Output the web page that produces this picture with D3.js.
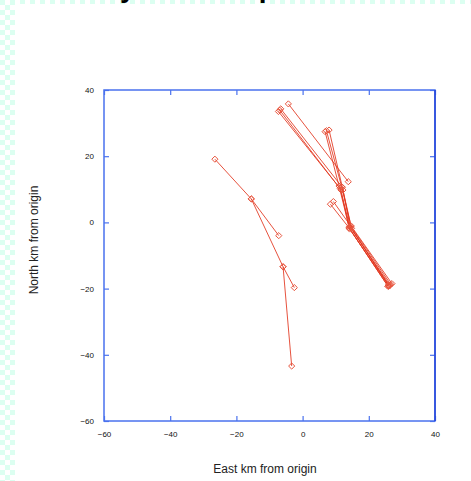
<!DOCTYPE html>
<html>
<head>
<meta charset="utf-8">
<script src="https://cdn.jsdelivr.net/npm/d3@7"></script>
<style>
  body { margin: 0; background: #fff; }
  svg { display: block; }
</style>
</head>
<body>
<svg width="471" height="481"></svg>
<script>
// track positions, km from origin (east, north)
const eastKm = [
    [-26.5, -15.5, -7.2],
    [-15.5, -5.9, -2.5],
    [-5.9, -3.3],
    [-7.3, 11.3, 14.3, 25.9],
    [-6.6, 12.0, 14.8, 26.2],
    [-4.3, 13.8],
    [-6.9, 11.6, 14.0, 25.8],
    [6.8, 11.0, 14.2, 26.0],
    [7.2, 11.8, 14.6, 27.0],
    [8.0, 12.2, 14.4, 26.4],
    [8.4, 14.0, 25.8],
    [9.3, 14.6, 26.6]
];
const northKm = [
    [19.1, 7.1, -4.0],
    [7.1, -13.4, -19.7],
    [-13.4, -43.4],
    [33.5, 10.3, -1.3, -18.9],
    [34.3, 10.6, -1.8, -19.2],
    [35.8, 12.3],
    [33.9, 9.8, -1.6, -19.3],
    [27.4, 11.0, -2.0, -19.1],
    [27.7, 10.8, -1.0, -18.5],
    [27.9, 9.8, -1.5, -19.0],
    [5.5, -1.6, -19.3],
    [6.3, -1.2, -18.7]
];
const xTicks = [-60, -40, -20, 0, 20, 40];
const yTicks = [-60, -40, -20, 0, 20, 40];

let svg = d3.select('svg');

// checkered page edge
let checker = svg.append('defs').append('pattern')
    .attr('id', 'chk')
    .attr('width', 10).attr('height', 10)
    .attr('patternUnits', 'userSpaceOnUse');
checker.append('rect').attr('width', 10).attr('height', 10).attr('fill', '#fff');
checker.append('rect').attr('width', 5).attr('height', 5).attr('fill', '#dcfff1');
checker.append('rect').attr('x', 5).attr('y', 5).attr('width', 5).attr('height', 5).attr('fill', '#dcfff1');
svg.append('rect').attr('width', 471).attr('height', 481).attr('fill', 'url(#chk)');
svg.append('rect').attr('x', 15).attr('y', 4).attr('width', 456).attr('height', 477).attr('fill', '#fff');

// slide title, mostly above the visible area
svg.append('text')
    .attr('x', 47).attr('y', -3)
    .attr('font-family', 'Liberation Sans, Arial, sans-serif')
    .attr('font-size', 28).attr('font-weight', 'bold')
    .attr('fill', '#000')
    .text('Hourly track map');

let plotLeft = 104, plotRight = 435, plotTop = 90, plotBottom = 421;

let x = d3.scaleLinear().domain([-60, 40]).range([plotLeft, plotRight]);
let y = d3.scaleLinear().domain([-60, 40]).range([plotBottom, plotTop]);

let axisColor = '#4a72ee';

// inward ticks on all four sides
let xAxisB = d3.axisBottom(x).tickValues(xTicks).tickSize(-5).tickPadding(10);
let xAxisT = d3.axisTop(x).tickValues(xTicks).tickSize(-5).tickFormat('');
let yAxisL = d3.axisLeft(y).tickValues(yTicks).tickSize(-5).tickPadding(10);
let yAxisR = d3.axisRight(y).tickValues(yTicks).tickSize(-5).tickFormat('');

function styleAxis(g) {
    g.select('.domain').remove();
    g.selectAll('line').attr('stroke', axisColor).attr('stroke-width', 1.2);
    g.selectAll('text')
        .attr('font-family', 'Liberation Sans, Arial, sans-serif')
        .attr('font-size', 8).attr('fill', '#111');
}

svg.append('g').attr('transform', `translate(0,${plotBottom})`).call(xAxisB).call(styleAxis);
svg.append('g').attr('transform', `translate(0,${plotTop})`).call(xAxisT).call(styleAxis);
svg.append('g').attr('transform', `translate(${plotLeft},0)`).call(yAxisL).call(styleAxis);
svg.append('g').attr('transform', `translate(${plotRight},0)`).call(yAxisR).call(styleAxis);

svg.append('rect')
    .attr('x', plotLeft).attr('y', plotTop)
    .attr('width', plotRight - plotLeft).attr('height', plotBottom - plotTop)
    .attr('fill', 'none').attr('stroke', axisColor).attr('stroke-width', 1.5);
svg.append('line')
    .attr('x1', plotRight).attr('x2', plotRight).attr('y1', plotTop).attr('y2', plotBottom)
    .attr('stroke', '#2544d8').attr('stroke-width', 1.5);

// tracks
let tracks = eastKm.map((xs, i) => xs.map((e, j) => [e, northKm[i][j]]));
let line = d3.line().x(d => x(d[0])).y(d => y(d[1]));

let plot = svg.append('g');
plot.selectAll('path.track')
    .data(tracks)
    .enter().append('path')
    .attr('class', 'track')
    .attr('d', line)
    .attr('fill', 'none')
    .attr('stroke', '#e2341c')
    .attr('stroke-opacity', 0.85)
    .attr('stroke-width', 1);

let symbol = d3.symbol().type(d3.symbolDiamond2).size(24);
plot.selectAll('path.pt')
    .data(tracks.flat())
    .enter().append('path')
    .attr('class', 'pt')
    .attr('transform', d => `translate(${x(d[0])},${y(d[1])})`)
    .attr('d', symbol)
    .attr('fill', 'none')
    .attr('stroke', '#e8553e')
    .attr('stroke-width', 1);

// axis titles
svg.append('text')
    .attr('x', 265).attr('y', 473)
    .attr('text-anchor', 'middle')
    .attr('font-family', 'Liberation Sans, Arial, sans-serif')
    .attr('font-size', 12).attr('fill', '#222')
    .text('East km from origin');

svg.append('text')
    .attr('transform', 'translate(38,240) rotate(-90)')
    .attr('text-anchor', 'middle')
    .attr('font-family', 'Liberation Sans, Arial, sans-serif')
    .attr('font-size', 12).attr('fill', '#222')
    .text('North km from origin');
</script>
</body>
</html>
